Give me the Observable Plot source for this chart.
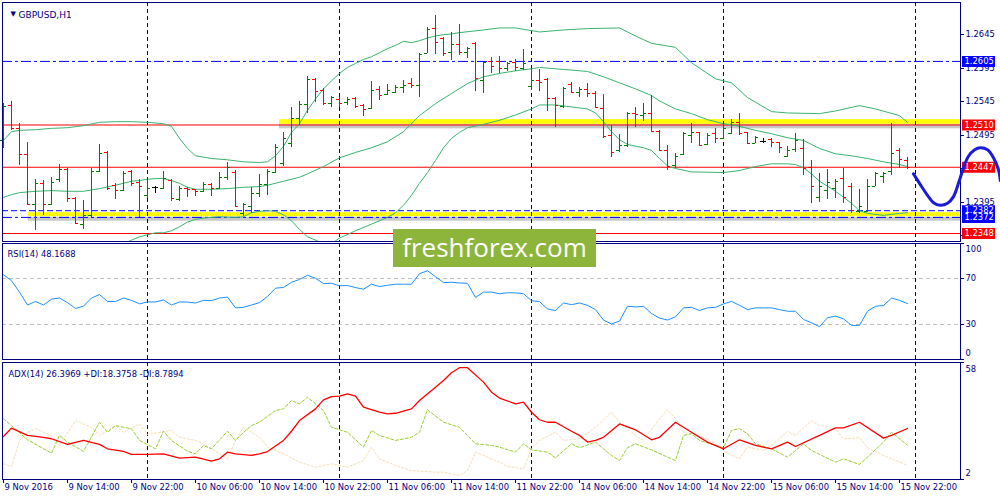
<!DOCTYPE html>
<html><head><meta charset="utf-8">
<script src="https://cdn.jsdelivr.net/npm/d3@7"></script>
<script src="https://cdn.jsdelivr.net/npm/@observablehq/plot@0.6"></script>
<style>
html,body{margin:0;padding:0;background:#fff;}
body{width:1000px;height:500px;overflow:hidden;position:relative;font-family:"DejaVu Sans",sans-serif;}
.panel{position:absolute;left:0;}
.panel svg{display:block;max-width:none;}
#wm{position:absolute;left:393px;top:229px;width:203px;height:38px;background:#8db53c;color:#fff;font-family:"Open Sans",sans-serif;font-size:26px;line-height:36px;text-align:center;}
</style></head><body>
<div id="main" class="panel" style="top:0"></div>
<div id="rsi" class="panel" style="top:242px"></div>
<div id="adx" class="panel" style="top:360px"></div>
<div id="wm">freshforex.com</div>
<script>
// ---------- DATA ----------
const open = [
1.2487,1.2539,1.2505,1.2466,1.2391,1.2423,1.2391,1.2429,1.2443,1.2400,
1.2361,1.2375,1.2440,1.2469,1.2420,1.2412,1.2440,1.2424,1.2405,1.2417,
1.2415,1.2427,1.2399,1.2415,1.2414,1.2411,1.2421,1.2415,1.2432,1.2439,
1.2378,1.2388,1.2408,1.2421,1.2439,1.2452,1.2482,1.2520,1.2540,1.2578,
1.2561,1.2542,1.2548,1.2543,1.2549,1.2539,1.2534,1.2563,1.2555,1.2558,
1.2566,1.2572,1.2569,1.2617,1.2654,1.2639,1.2618,1.2630,1.2618,1.2632,
1.2576,1.2605,1.2605,1.2594,1.2603,1.2594,1.2567,1.2576,1.2578,1.2549,
1.2537,1.2570,1.2558,1.2563,1.2557,1.2534,1.2494,1.2472,1.2479,1.2527,
1.2524,1.2527,1.2500,1.2472,1.2449,1.2466,1.2494,1.2499,1.2481,1.2497,
1.2490,1.2497,1.2514,1.2499,1.2482,1.2485,1.2488,1.2484,1.2463,1.2473,
1.2475,1.2446,1.2402,1.2412,1.2415,1.2430,1.2418,1.2381,1.2381,1.2418,
1.2433,1.2440,1.2472,1.2457];
const high = [
1.2542,1.2545,1.2512,1.2484,1.2429,1.2427,1.2432,1.2451,1.2445,1.2402,
1.2397,1.2445,1.2481,1.2470,1.2423,1.2440,1.2442,1.2429,1.2429,1.2418,
1.2440,1.2429,1.2418,1.2417,1.2414,1.2424,1.2423,1.2439,1.2454,1.2442,
1.2393,1.2417,1.2436,1.2443,1.2481,1.2499,1.2536,1.2545,1.2582,1.2579,
1.2564,1.2552,1.2551,1.2551,1.2551,1.2540,1.2575,1.2567,1.2570,1.2569,
1.2576,1.2579,1.2617,1.2655,1.2673,1.2640,1.2648,1.2660,1.2626,1.2633,
1.2603,1.2611,1.2612,1.2603,1.2608,1.2623,1.2594,1.2593,1.2579,1.2551,
1.2566,1.2573,1.2566,1.2572,1.2560,1.2555,1.2509,1.2496,1.2528,1.2536,
1.2542,1.2554,1.2502,1.2479,1.2467,1.2499,1.2512,1.2499,1.2497,1.2505,
1.2512,1.2518,1.2527,1.2499,1.2493,1.2490,1.2490,1.2484,1.2478,1.2497,
1.2488,1.2457,1.2437,1.2443,1.2429,1.2445,1.2423,1.2414,1.2429,1.2439,
1.2439,1.2512,1.2475,1.2461];
const low = [
1.2475,1.2502,1.2449,1.2390,1.2352,1.2375,1.2390,1.2424,1.2394,1.2361,
1.2354,1.2372,1.2439,1.2412,1.2399,1.2411,1.2418,1.2372,1.2400,1.2408,
1.2414,1.2396,1.2396,1.2402,1.2403,1.2409,1.2403,1.2414,1.2427,1.2387,
1.2373,1.2378,1.2402,1.2405,1.2437,1.2448,1.2476,1.2509,1.2527,1.2543,
1.2539,1.2536,1.2536,1.2539,1.2534,1.2522,1.2533,1.2546,1.2554,1.2557,
1.2557,1.2564,1.2551,1.2617,1.2615,1.2612,1.2606,1.2614,1.2609,1.2560,
1.2557,1.2587,1.2587,1.2590,1.2590,1.2591,1.2561,1.2560,1.2530,1.2506,
1.2534,1.2557,1.2551,1.2551,1.2534,1.2490,1.2461,1.2469,1.2476,1.2506,
1.2515,1.2499,1.2472,1.2442,1.2445,1.2464,1.2482,1.2478,1.2479,1.2482,
1.2488,1.2496,1.2494,1.2481,1.2482,1.2482,1.2476,1.2467,1.2461,1.2469,
1.2434,1.2393,1.2394,1.2399,1.2400,1.2393,1.2378,1.2378,1.2379,1.2418,
1.2423,1.2434,1.2445,1.2443];
const close = [
1.2537,1.2505,1.2466,1.2391,1.2423,1.2391,1.2424,1.2443,1.2400,1.2363,
1.2375,1.2440,1.2467,1.2415,1.2412,1.2437,1.2423,1.2418,1.2415,1.2417,
1.2430,1.2400,1.2415,1.2414,1.2411,1.2421,1.2415,1.2432,1.2446,1.2388,
1.2391,1.2408,1.2421,1.2440,1.2476,1.2490,1.2520,1.2540,1.2578,1.2560,
1.2542,1.2551,1.2542,1.2548,1.2537,1.2533,1.2561,1.2554,1.2561,1.2566,
1.2569,1.2569,1.2615,1.2652,1.2633,1.2617,1.2630,1.2618,1.2624,1.2579,
1.2603,1.2597,1.2594,1.2602,1.2596,1.2602,1.2576,1.2573,1.2549,1.2539,
1.2564,1.2558,1.2563,1.2557,1.2536,1.2493,1.2469,1.2479,1.2527,1.2525,
1.2527,1.2500,1.2472,1.2448,1.2463,1.2497,1.2499,1.2479,1.2494,1.2490,
1.2505,1.2514,1.2497,1.2482,1.2491,1.2485,1.2484,1.2476,1.2472,1.2487,
1.2445,1.2418,1.2418,1.2424,1.2426,1.2402,1.2382,1.2388,1.2418,1.2437,
1.2437,1.2467,1.2458,1.2447];

// Bollinger bands [bar, price]
const bbUpper = [[0,1.2487],[1,1.2500],[2,1.2502],[4,1.2503],[6,1.2505],[8,1.2506],[10,1.2509],[12,1.2514],[14,1.2515],[16,1.2515],[18,1.2514],[20,1.2512],[21,1.2508],[22,1.2490],[23,1.2475],[24,1.2464],[26,1.2460],[28,1.2458],[30,1.2455],[32,1.2454],[33,1.2455],[34,1.2464],[35,1.2478],[36,1.2499],[37,1.2512],[38,1.2532],[39,1.2549],[40,1.2564],[41,1.2576],[42,1.2587],[43,1.2596],[44,1.2602],[45,1.2608],[46,1.2612],[47,1.2618],[48,1.2624],[49,1.2629],[50,1.2635],[51,1.2633],[52,1.2636],[53,1.2640],[54,1.2643],[55,1.2645],[56,1.2646],[57,1.2648],[60,1.2652],[62,1.2655],[64,1.2655],[67,1.2649],[70,1.2652],[73,1.2654],[77,1.2655],[79,1.2643],[81,1.2632],[84,1.2626],[86,1.2603],[89,1.2579],[91,1.2573],[93,1.2551],[96,1.2530],[98,1.2528],[102,1.2527],[104,1.2531],[107,1.2539],[109,1.2534],[112,1.2524],[113,1.2514]];
const bbMiddle = [[0,1.2402],[1,1.2406],[2,1.2409],[4,1.2411],[6,1.2412],[8,1.2411],[10,1.2411],[12,1.2415],[14,1.2420],[16,1.2426],[17,1.2427],[18,1.2429],[19,1.2430],[20,1.2430],[21,1.2427],[22,1.2423],[23,1.2417],[24,1.2414],[26,1.2414],[28,1.2415],[30,1.2417],[32,1.2418],[33,1.2420],[35,1.2426],[37,1.2432],[38,1.2437],[40,1.2448],[42,1.2461],[44,1.2469],[46,1.2476],[48,1.2485],[50,1.2500],[52,1.2524],[54,1.2542],[56,1.2557],[58,1.2572],[60,1.2582],[62,1.2587],[64,1.2591],[66,1.2594],[67,1.2596],[70,1.2593],[73,1.2590],[75,1.2582],[77,1.2573],[79,1.2564],[81,1.2554],[82,1.2546],[84,1.2534],[86,1.2527],[88,1.2518],[90,1.2512],[92,1.2508],[94,1.2502],[96,1.2497],[98,1.2491],[100,1.2487],[102,1.2475],[104,1.2467],[106,1.2464],[108,1.2460],[110,1.2455],[112,1.2451],[113,1.2448]];
const bbLower = [[15,1.2333],[16,1.2338],[17,1.2343],[18,1.2346],[19,1.2349],[20,1.2349],[21,1.2352],[22,1.2358],[23,1.2365],[24,1.2369],[25,1.2371],[27,1.2373],[29,1.2372],[30,1.2373],[31,1.2379],[32,1.2381],[33,1.2382],[34,1.2381],[35,1.2376],[36,1.2367],[37,1.2354],[38,1.2343],[39,1.2338],[40,1.2333],[41,1.2333],[42,1.2341],[44,1.2352],[46,1.2362],[48,1.2372],[49,1.2379],[50,1.2390],[51,1.2405],[52,1.2423],[53,1.2439],[54,1.2457],[55,1.2476],[56,1.2490],[57,1.2499],[58,1.2506],[60,1.2511],[62,1.2517],[64,1.2525],[66,1.2534],[67,1.2540],[69,1.2540],[71,1.2537],[73,1.2534],[74,1.2528],[75,1.2515],[76,1.2500],[77,1.2488],[78,1.2481],[80,1.2476],[81,1.2472],[82,1.2460],[83,1.2449],[84,1.2445],[86,1.2440],[90,1.2439],[92,1.2442],[94,1.2448],[96,1.2452],[98,1.2452],[99,1.2451],[100,1.2446],[101,1.2437],[102,1.2426],[104,1.2411],[106,1.2393],[107,1.2382],[108,1.2378],[110,1.2375],[112,1.2378],[113,1.2379]];

// hand-drawn scenario curve [bar, price]
const scenario = [[113.75,1.2437],[114.6,1.2421],[115.5,1.2405],[116.25,1.2394],[117.1,1.2390],[118.0,1.2393],[118.75,1.2403],[119.4,1.2424],[120.0,1.2446],[120.6,1.2463],[121.4,1.2473],[122.1,1.2476],[123.0,1.2473],[123.75,1.2461],[124.4,1.2442],[124.6,1.2427]];

const rsi = [73,68,58,47,50,47,52,53,49,44,
46,53,56,50,50,53,51,48,49.6,49.6,
51.3,47,49.6,49.5,48.7,51,50.7,53,53.8,44.5,
45,47,49,54.4,61.5,62.1,66.6,69,72.6,70,
65.5,65.7,63.5,63.8,62,60.6,64.9,62.9,64,64.9,
64.9,64.9,74,76.5,71.4,66.3,66.6,66,65.7,53.5,
58.1,58.1,56.7,57.5,57.5,56.7,50.7,49.9,43.6,42.2,
48.7,47.3,48.7,46.7,43,34,30.6,33.1,45.9,45.3,
45.9,39.6,35.7,34,36.8,44.5,45,42.2,44.5,45,
47.9,50.1,46.7,43,44.5,44.5,44.5,43,41.6,41.6,
34.5,31.7,28.3,36,37.4,35.1,29.4,29.4,41.6,45.9,
46.5,53,51,48.2];

const adx = [[0,22.6],[1,26.6],[3,23.1],[5,22.2],[6,21.5],[8,18.8],[10,20.7],[12,18.8],[13,16.7],[15,15.5],[16,14.0],[18,14.0],[20,14.3],[22,12.2],[24,12.7],[26,10.8],[27,11.9],[28,15.1],[29,14.3],[31,13.5],[32,14.3],[33,15.4],[35,20.7],[36,25.1],[37,30.2],[39,35.8],[40,40.1],[41,41.7],[42,41.9],[43,43.0],[44,41.9],[45,36.6],[47,34.2],[48,33.4],[49,33.7],[51,35.8],[52,39.8],[54,46.2],[55,49.4],[56,53.1],[57,55.5],[58,55.5],[60,48.6],[61,43.8],[62,41.0],[64,38.2],[65,39.0],[66,34.2],[67,30.6],[68,29.4],[69,29.4],[71,25.1],[72,23.1],[73,19.9],[74,20.7],[75,22.2],[77,28.6],[79,25.8],[81,21.0],[82,22.2],[84,29.4],[86,24.6],[88,19.9],[90,16.7],[92,21.0],[94,18.3],[96,16.7],[98,19.9],[99,17.8],[102,23.1],[104,26.7],[105,26.7],[107,29.4],[110,21.8],[111,23.1],[113,26.4]];
const plusDI = [[0,31.1],[1,27.8],[3,21.0],[6,14.6],[7,23.1],[8,19.9],[10,15.5],[12,29.4],[13,24.6],[14,27.8],[16,26.3],[17,20.7],[19,16.7],[20,25.1],[21,20.7],[23,15.5],[24,14.3],[25,18.3],[26,16.7],[28,25.1],[29,20.7],[30,24.6],[31,27.8],[32,29.4],[34,35.0],[35,35.8],[36,39.8],[37,38.2],[38,41.4],[40,35.0],[41,27.0],[43,24.6],[45,17.5],[46,25.5],[47,23.1],[49,20.7],[51,22.2],[52,24.6],[53,35.4],[55,29.4],[57,27.0],[59,19.1],[61,18.3],[62,17.5],[64,15.1],[65,19.1],[66,16.2],[68,15.1],[69,12.4],[71,19.1],[72,17.2],[74,19.9],[76,13.5],[77,11.1],[78,17.2],[79,19.1],[81,16.2],[83,12.7],[84,11.1],[85,23.1],[86,23.9],[87,20.7],[89,18.3],[90,17.2],[91,25.5],[92,26.3],[93,23.9],[94,19.1],[96,16.7],[98,12.7],[100,19.1],[101,15.9],[104,10.3],[105,11.9],[107,9.2],[108,12.7],[110,19.9],[111,24.6],[113,18.4]];
const minusDI = [[0,9.5],[1,8.2],[2,20.7],[3,24.6],[4,26.3],[6,23.1],[7,18.3],[9,30.2],[11,27.0],[12,23.1],[14,27.8],[15,24.6],[17,28.6],[18,23.5],[21,25.5],[22,22.2],[24,20.7],[25,19.1],[27,14.3],[28,11.9],[29,20.7],[30,27.0],[32,22.2],[33,17.5],[35,14.3],[37,10.3],[39,7.9],[41,9.5],[43,7.9],[45,11.1],[46,17.5],[47,11.9],[49,8.7],[51,6.3],[54,5.5],[55,5.5],[57,3.9],[58,6.3],[59,15.1],[60,13.5],[62,10.3],[63,8.2],[65,7.1],[66,16.7],[67,20.7],[69,24.6],[70,20.7],[72,21.5],[74,27.0],[76,34.2],[77,29.4],[79,23.1],[80,20.7],[82,31.1],[83,35.4],[84,31.1],[85,24.6],[87,23.1],[89,19.1],[90,15.9],[91,13.5],[92,11.9],[93,17.5],[95,15.9],[96,18.3],[98,25.0],[99,23.1],[101,30.2],[102,27.8],[104,26.3],[105,21.5],[107,22.0],[108,17.2],[110,13.5],[113,8.8]];

const timeTickBars = [0,8,16,24,32,40,48,56,64,72,80,88,96,104,112];
const timeTickLabels = ["9 Nov 2016","9 Nov 14:00","9 Nov 22:00","10 Nov 06:00","10 Nov 14:00","10 Nov 22:00","11 Nov 06:00","11 Nov 14:00","11 Nov 22:00","14 Nov 06:00","14 Nov 14:00","14 Nov 22:00","15 Nov 06:00","15 Nov 14:00","15 Nov 22:00"];
const daySeparatorBars = [18,42,66,90,114];

const priceTicks = [1.2645,1.2595,1.2545,1.2495,1.2445,1.2395,1.2345];
const redLevels = [1.2510,1.2447,1.2348];
const blueDashDotLevels = [1.2605,1.2372];
const blueDashedLevels = [1.2382];
const priceBoxes = [
  {v:1.2605,c:"#0000ff"},{v:1.2510,c:"#ff0000"},{v:1.2447,c:"#ff0000"},
  {v:1.2372,c:"#0000ff"},{v:1.2382,c:"#0000ff"},{v:1.2348,c:"#ff0000"}];
const zones = [{start:34.5,top:1.2518,bottom:1.2511},{start:3.1,top:1.2379,bottom:1.2373}];
const rsiLevels = [70,30];
const rsiMidLabels = [70,30];
const rsiTopLabel = [100];
const rsiBottomLabel = [0];
const adxTopLabel = [58];
const adxBottomLabel = [2];

// ---------- PLOTS ----------
const XMAX = 119.625;
const NAVY = "#000080";
const FS = 8.4;
const FONT = "DejaVu Sans";
const CRISP = {shapeRendering:"crispEdges"};
const common = {
  width:1000, marginLeft:2, marginRight:40,
  x:{domain:[-0.125, XMAX], axis:null},
  style:{background:"transparent", overflow:"visible", fontFamily:FONT, fontSize:FS+"px"}
};
const bars = open.map((o,i)=>({i, open:o, high:high[i], low:low[i], close:close[i],
  col: close[i]>o ? "#008000" : close[i]<o ? "#ff0000" : "#000000"}));
const sep = Plot.ruleX(daySeparatorBars, {x:d=>d, stroke:NAVY, strokeDasharray:"4,3", ...CRISP});
const bbStyle = {x:d=>d[0], y:d=>d[1], stroke:"#3cb371", strokeWidth:1, clip:true};
const axisTick = (vals) => Plot.ruleY(vals,{y:d=>d, x1:()=>XMAX, x2:()=>XMAX, insetRight:-4, stroke:NAVY, ...CRISP});
const axisText = (vals, dy) => Plot.text(vals,{y:d=>d, x:()=>XMAX, dx:5, dy, text:d=>String(d), textAnchor:"start", fill:NAVY, fontSize:FS});

const main = Plot.plot({
  ...common, height:242, marginTop:2, marginBottom:1,
  y:{domain:[1.2336,1.2693], axis:null},
  marks:[
    Plot.rect(zones,{x1:"start", x2:()=>XMAX, y1:"bottom", y2:"top", fill:"#9a9a9a", fillOpacity:0.55, dy:4.5}),
    Plot.rect(zones,{x1:"start", x2:()=>XMAX, y1:"bottom", y2:"top", fill:"#ffff00"}),
    Plot.ruleY(redLevels,{y:d=>d, stroke:"#ff0000", strokeWidth:1.1}),
    Plot.ruleY(blueDashDotLevels,{y:d=>d, stroke:"#0000ff", strokeDasharray:"10,3,3,3"}),
    Plot.ruleY(blueDashedLevels,{y:d=>d, stroke:"#0000ff", strokeDasharray:"6,3"}),
    sep,
    Plot.line(bbUpper, bbStyle),
    Plot.line(bbMiddle, bbStyle),
    Plot.line(bbLower, bbStyle),
    Plot.ruleX(bars,{x:"i", y1:"low", y2:"high", stroke:"col", ...CRISP}),
    Plot.ruleY(bars,{y:"open", x1:d=>d.i-0.375, x2:"i", stroke:"col", ...CRISP}),
    Plot.ruleY(bars,{y:"close", x1:"i", x2:d=>d.i+0.375, stroke:"col", ...CRISP}),
    Plot.frame({stroke:NAVY, ...CRISP}),
    axisTick(priceTicks),
    Plot.text(priceTicks,{y:d=>d, x:()=>XMAX, dx:5, text:d=>d.toFixed(4), textAnchor:"start", fill:NAVY, fontSize:FS}),
    Plot.ruleY(priceBoxes,{y:"v", x1:()=>XMAX, x2:()=>XMAX, insetLeft:2, insetRight:-35, stroke:"c", strokeWidth:11}),
    Plot.text(priceBoxes,{y:"v", x:()=>XMAX, dx:4, text:d=>d.v.toFixed(4), textAnchor:"start", fill:"#ffffff", fontSize:FS}),
    Plot.line(scenario,{x:d=>d[0], y:d=>d[1], stroke:"#1a1ad8", strokeWidth:3, curve:"catmull-rom", strokeLinecap:"round"}),
    Plot.text(["\u25BC"],{frameAnchor:"top-left", dx:8, dy:9, text:d=>d, fill:NAVY, fontSize:7}),
    Plot.text(["GBPUSD,H1"],{frameAnchor:"top-left", dx:16, dy:9, text:d=>d, textAnchor:"start", fill:NAVY, fontSize:9})
  ]
});
document.getElementById("main").append(main);

const rsiPlot = Plot.plot({
  ...common, height:118, marginTop:1, marginBottom:1,
  y:{domain:[0,100], axis:null},
  marks:[
    Plot.ruleY(rsiLevels,{y:d=>d, stroke:"#c0c0c0", strokeDasharray:"4,3", ...CRISP}),
    sep,
    Plot.line(rsi,{x:(d,i)=>i, y:d=>d, stroke:"#1e90ff", strokeWidth:1}),
    Plot.frame({stroke:NAVY, ...CRISP}),
    axisTick([...rsiTopLabel, ...rsiMidLabels, ...rsiBottomLabel]),
    axisText(rsiTopLabel, 6),
    axisText(rsiMidLabels, 0),
    axisText(rsiBottomLabel, -6),
    Plot.text(["RSI(14) 48.1688"],{frameAnchor:"top-left", dx:5, dy:8, text:d=>d, textAnchor:"start", fill:NAVY, fontSize:FS})
  ]
});
document.getElementById("rsi").append(rsiPlot);

const ticks = timeTickBars.map((b,k)=>({b, label:timeTickLabels[k]}));
const adxPlot = Plot.plot({
  ...common, height:140, marginTop:2, marginBottom:21,
  y:{domain:[2,58], axis:null},
  marks:[
    sep,
    Plot.line(minusDI,{x:d=>d[0], y:d=>d[1], stroke:"#f5deb3", strokeWidth:1, strokeDasharray:"2,2"}),
    Plot.line(plusDI,{x:d=>d[0], y:d=>d[1], stroke:"#9acd32", strokeWidth:1, strokeDasharray:"3,2"}),
    Plot.line(adx,{x:d=>d[0], y:d=>d[1], stroke:"#ff0000", strokeWidth:1.3}),
    Plot.frame({stroke:NAVY, ...CRISP}),
    axisTick([...adxTopLabel, ...adxBottomLabel]),
    axisText(adxTopLabel, 7),
    axisText(adxBottomLabel, -6),
    Plot.text(["ADX(14) 26.3969 +DI:18.3758 -DI:8.7894"],{frameAnchor:"top-left", dx:6, dy:9, text:d=>d, textAnchor:"start", fill:NAVY, fontSize:FS}),
    Plot.ruleX(ticks,{x:"b", y1:()=>2, y2:()=>2, insetBottom:-4, stroke:NAVY, ...CRISP}),
    Plot.text(ticks,{x:"b", frameAnchor:"bottom", dy:10, text:"label", textAnchor:"start", dx:1, fill:NAVY, fontSize:FS})
  ]
});
document.getElementById("adx").append(adxPlot);
</script>
</body></html>
